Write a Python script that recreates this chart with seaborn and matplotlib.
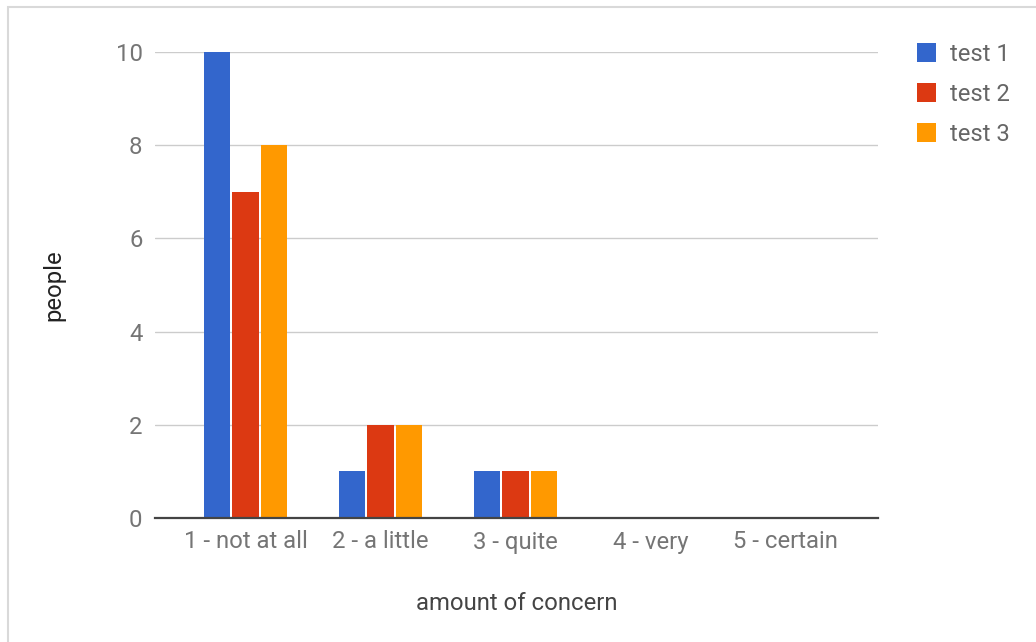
import matplotlib
matplotlib.use("Agg")
import matplotlib.pyplot as plt
import seaborn as sns
import pandas as pd
from matplotlib.patches import Rectangle

categories = ["1 - not at all", "2 - a little", "3 - quite", "4 - very", "5 - certain"]
test1 = [10, 1, 1, 0, 0]
test2 = [7, 2, 1, 0, 0]
test3 = [8, 2, 1, 0, 0]
series_names = ["test 1", "test 2", "test 3"]
colors = ["#3366cc", "#dc3912", "#ff9900"]
yticks = [0, 2, 4, 6, 8, 10]

df = pd.DataFrame({
    "concern": categories * 3,
    "people": test1 + test2 + test3,
    "series": [s for s in series_names for _ in categories],
})

sns.set_theme(style="white")
plt.rcParams["font.family"] = ["Roboto", "DejaVu Sans"]

W, H = 1036, 642
fig = plt.figure(figsize=(W / 100, H / 100), dpi=100)
ax = fig.add_axes([155 / W, 1 - 518 / H, (878 - 155) / W, (518 - 52) / H])

sns.barplot(data=df, x="concern", y="people", hue="series", order=categories,
            hue_order=series_names, palette=colors, width=0.63, gap=0.07,
            saturation=1, edgecolor="none", ax=ax, legend=True)

ax.set_ylim(0, 10)
ax.set_xlim(-0.67, 4.685)
ax.set_yticks(yticks)
ax.yaxis.grid(True, color="#cccccc", linewidth=1)
ax.set_axisbelow(True)
for side in ["top", "right", "left"]:
    ax.spines[side].set_visible(False)
ax.spines["bottom"].set_color("#444444")
ax.spines["bottom"].set_linewidth(1.6)
ax.spines["bottom"].set_zorder(5)

fs = 17.2
ax.tick_params(axis="both", length=0, labelsize=fs, labelcolor="#757575")
ax.tick_params(axis="y", pad=9)
ax.tick_params(axis="x", pad=9)

ax.set_xlabel("amount of concern", fontsize=fs, color="#444444", labelpad=28)
ax.set_ylabel("people", fontsize=fs, color="#222222", labelpad=36)

leg = ax.legend(loc="upper left", bbox_to_anchor=(907 / W, 1 - 33 / H),
                bbox_transform=fig.transFigure, frameon=False, fontsize=fs,
                handlelength=0.82, handleheight=0.82, handletextpad=0.6,
                labelspacing=0.72, borderaxespad=0)
for t in leg.get_texts():
    t.set_color("#666666")

# outer frame of the chart card
fig.patches.append(Rectangle((8 / W, -0.1), 1.2, 1 - 7 / H + 0.1,
                             transform=fig.transFigure, fill=False,
                             edgecolor="#d9d9d9", linewidth=1.5))

fig.savefig("out.png", dpi=100)
